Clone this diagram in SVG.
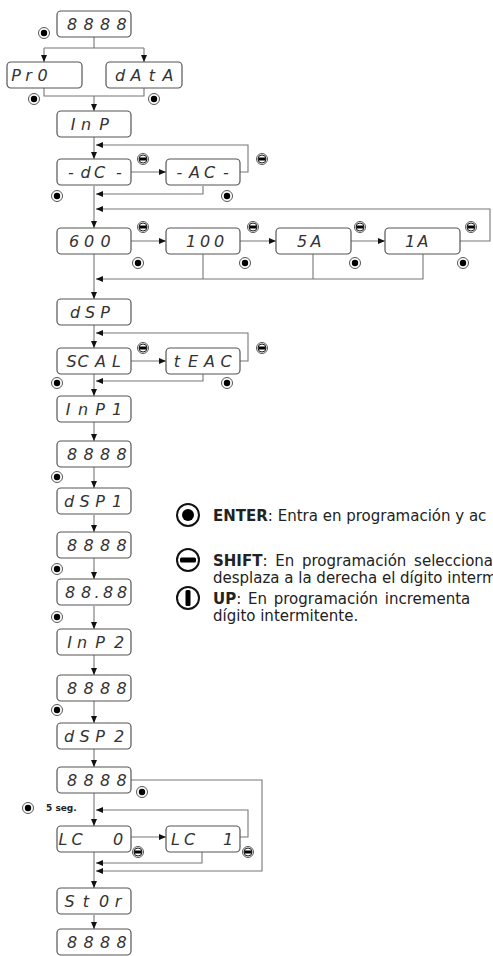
<svg xmlns="http://www.w3.org/2000/svg" xmlns:xlink="http://www.w3.org/1999/xlink" width="493" height="956" viewBox="0 0 493 956">
<defs>
<style>
.box{fill:#fff;stroke:#555;stroke-width:1.2}
.seg{font-family:"DejaVu Sans",sans-serif;font-style:italic;font-size:16px;fill:#333;text-anchor:middle}
.ln{fill:none;stroke:#777;stroke-width:1.1}
.ar{marker-end:url(#arr)}
.ring{fill:#fff;stroke:#555;stroke-width:1}
.lg{font-family:"DejaVu Sans",sans-serif;font-size:15px;fill:#222}
.b{font-weight:bold}
</style>
<marker id="arr" markerUnits="userSpaceOnUse" markerWidth="8" markerHeight="6" refX="7" refY="3" orient="auto">
<path d="M0,0 L7,3 L0,6 z" fill="#111"/>
</marker>
<g id="ent"><circle r="5.5" class="ring"/><circle r="3.2" fill="#000"/></g>
<g id="shf"><circle r="5.5" class="ring"/><circle r="4" fill="#fff" stroke="#222" stroke-width="1"/><rect x="-3.6" y="-1.5" width="7.2" height="3" fill="#000"/></g>
</defs>
<rect width="493" height="956" fill="#fff"/>

<g id="connectors">
<path class="ln" d="M94,37 V48 M44,48 H144"/>
<path class="ln ar" d="M44,48 V62"/>
<path class="ln ar" d="M144,48 V62"/>
<path class="ln" d="M44,88 V96 H144 V88"/>
<path class="ln ar" d="M94,96 V111"/>
<path class="ln ar" d="M94,137 V159"/>
<path class="ln ar" d="M131,172 H166"/>
<path class="ln ar" d="M240,172 H248 V145 H96"/>
<path class="ln ar" d="M203,186 V194 H96"/>
<path class="ln ar" d="M94,186 V228"/>
<path class="ln ar" d="M460,241 H490 V209 H96"/>
<path class="ln ar" d="M131,241 H166"/>
<path class="ln ar" d="M240,241 H276"/>
<path class="ln ar" d="M351,241 H385"/>
<path class="ln" d="M203,254 V279 M313,254 V279"/>
<path class="ln ar" d="M423,254 V279 H96"/>
<path class="ln ar" d="M94,254 V299"/>
<path class="ln ar" d="M94,325 V348"/>
<path class="ln ar" d="M131,361 H166"/>
<path class="ln ar" d="M240,361 H248 V333 H96"/>
<path class="ln ar" d="M203,374 V381 H96"/>
<path class="ln ar" d="M94,374 V396"/>
<path class="ln ar" d="M94,422 V441"/>
<path class="ln ar" d="M94,466 V488"/>
<path class="ln ar" d="M94,515 V532"/>
<path class="ln ar" d="M94,558 V579"/>
<path class="ln ar" d="M94,606 V629"/>
<path class="ln ar" d="M94,655 V675"/>
<path class="ln ar" d="M94,701 V723"/>
<path class="ln ar" d="M94,749 V767"/>
<path class="ln ar" d="M131,780 H262 V871 H96"/>
<path class="ln ar" d="M94,793 V826"/>
<path class="ln ar" d="M131,837 H166"/>
<path class="ln ar" d="M240,837 H248 V810 H96"/>
<path class="ln ar" d="M202,852 V863 H96"/>
<path class="ln ar" d="M94,852 V888"/>
<path class="ln ar" d="M94,915 V929"/>
</g>

<g id="n-8888-top"><rect class="box" x="57" y="11" width="74" height="26" rx="4"/><text class="seg" x="72 88.5 105 121.5" y="30">8888</text></g>
<g id="n-pro"><rect class="box" x="7" y="62" width="75" height="26" rx="4"/><text class="seg" x="16 28.5 42.5" y="81">Pr0</text></g>
<g id="n-data"><rect class="box" x="106" y="62" width="76" height="26" rx="4"/><text class="seg" x="120 136 152 168" y="81">dAtA</text></g>
<g id="n-inp"><rect class="box" x="57" y="111" width="74" height="26" rx="4"/><text class="seg" x="73 86 104" y="130">InP</text></g>
<g id="n-dc"><rect class="box" x="57" y="159" width="74" height="26" rx="4"/><text class="seg" x="71 85.5 99.5 119" y="178">-dC-</text></g>
<g id="n-ac"><rect class="box" x="166" y="159" width="74" height="26" rx="4"/><text class="seg" x="179.5 194.5 209.5 226" y="178">-AC-</text></g>
<g id="n-600"><rect class="box" x="57" y="228" width="74" height="26" rx="4"/><text class="seg" x="74 89 105.5" y="247">600</text></g>
<g id="n-100"><rect class="box" x="166" y="228" width="74" height="26" rx="4"/><text class="seg" x="191 205 219" y="247">100</text></g>
<g id="n-5a"><rect class="box" x="276" y="228" width="75" height="26" rx="4"/><text class="seg" x="302 316" y="247">5A</text></g>
<g id="n-1a"><rect class="box" x="385" y="228" width="75" height="26" rx="4"/><text class="seg" x="410 423" y="247">1A</text></g>
<g id="n-dsp"><rect class="box" x="57" y="299" width="74" height="26" rx="4"/><text class="seg" x="75 90 105" y="318">dSP</text></g>
<g id="n-scal"><rect class="box" x="57" y="348" width="74" height="26" rx="4"/><text class="seg" x="71.5 83 100.5 116.5" y="367">SCAL</text></g>
<g id="n-teac"><rect class="box" x="166" y="348" width="74" height="26" rx="4"/><text class="seg" x="177 193 209.5 226" y="367">tEAC</text></g>
<g id="n-inp1"><rect class="box" x="57" y="396" width="74" height="26" rx="4"/><text class="seg" x="68 83 100 117" y="415">InP1</text></g>
<g id="n-8888-2"><rect class="box" x="57" y="441" width="74" height="26" rx="4"/><text class="seg" x="72 88.5 105 121.5" y="460">8888</text></g>
<g id="n-dsp1"><rect class="box" x="57" y="488" width="74" height="26" rx="4"/><text class="seg" x="69 84.5 100 117" y="507">dSP1</text></g>
<g id="n-8888-3"><rect class="box" x="57" y="532" width="74" height="26" rx="4"/><text class="seg" x="72 88.5 105 121.5" y="551">8888</text></g>
<g id="n-8888-dec"><rect class="box" x="57" y="579" width="74" height="26" rx="4"/><text class="seg" x="70 86 97 108 122" y="598">88.88</text></g>
<g id="n-inp2"><rect class="box" x="57" y="629" width="74" height="26" rx="4"/><text class="seg" x="69.5 82 100 119" y="648">InP2</text></g>
<g id="n-8888-4"><rect class="box" x="57" y="675" width="74" height="26" rx="4"/><text class="seg" x="72 88.5 105 121.5" y="694">8888</text></g>
<g id="n-dsp2"><rect class="box" x="57" y="723" width="74" height="26" rx="4"/><text class="seg" x="69 84.5 100 119" y="742">dSP2</text></g>
<g id="n-8888-5"><rect class="box" x="57" y="767" width="74" height="26" rx="4"/><text class="seg" x="72 88.5 105 121.5" y="786">8888</text></g>
<g id="n-lc0"><rect class="box" x="57" y="826" width="74" height="26" rx="4"/><text class="seg" x="63 77 118" y="845">LC0</text></g>
<g id="n-lc1"><rect class="box" x="166" y="826" width="74" height="26" rx="4"/><text class="seg" x="175.5 189.5 228" y="845">LC1</text></g>
<g id="n-stor"><rect class="box" x="57" y="888" width="74" height="26" rx="4"/><text class="seg" x="69.5 86 104 118" y="907">St0r</text></g>
<g id="n-8888-end"><rect class="box" x="57" y="929" width="74" height="26" rx="4"/><text class="seg" x="72 88.5 105 121.5" y="948">8888</text></g>

<g id="keys">
<use xlink:href="#ent" x="44" y="33"/>
<use xlink:href="#ent" x="34" y="99"/>
<use xlink:href="#ent" x="154" y="99"/>
<use xlink:href="#ent" x="57" y="196"/>
<use xlink:href="#ent" x="227" y="196"/>
<use xlink:href="#ent" x="138" y="263"/>
<use xlink:href="#ent" x="245" y="263"/>
<use xlink:href="#ent" x="355" y="263"/>
<use xlink:href="#ent" x="463" y="263"/>
<use xlink:href="#ent" x="57" y="383"/>
<use xlink:href="#ent" x="227" y="383"/>
<use xlink:href="#ent" x="57" y="477"/>
<use xlink:href="#ent" x="57" y="569"/>
<use xlink:href="#ent" x="57" y="617"/>
<use xlink:href="#ent" x="57" y="710"/>
<use xlink:href="#ent" x="142" y="792"/>
<use xlink:href="#ent" x="28" y="808"/>
<use xlink:href="#shf" x="143" y="159"/>
<use xlink:href="#shf" x="262" y="159"/>
<use xlink:href="#shf" x="143" y="227"/>
<use xlink:href="#shf" x="253" y="227"/>
<use xlink:href="#shf" x="360" y="227"/>
<use xlink:href="#shf" x="471" y="227"/>
<use xlink:href="#shf" x="143" y="348"/>
<use xlink:href="#shf" x="262" y="348"/>
<use xlink:href="#shf" x="138" y="852"/>
<use xlink:href="#shf" x="248" y="852"/>
<text x="46" y="811" font-family="DejaVu Sans, sans-serif" font-weight="bold" font-size="9" fill="#222">5 seg.</text>
</g>

<g id="legend">
<circle cx="188" cy="515" r="11" fill="#fff" stroke="#111" stroke-width="2"/>
<circle cx="188" cy="515" r="6" fill="#000"/>
<circle cx="188" cy="560" r="11" fill="#fff" stroke="#111" stroke-width="2"/>
<rect x="180" y="557.5" width="16" height="5" rx="1.5" fill="#000"/>
<circle cx="188" cy="598" r="11" fill="#fff" stroke="#111" stroke-width="2"/>
<rect x="185.5" y="590" width="5" height="16" rx="1.5" fill="#000"/>
<text class="lg" x="213" y="521"><tspan class="b">ENTER</tspan>: Entra en programación y ac</text>
<text class="lg" x="213" y="566" word-spacing="3"><tspan class="b">SHIFT</tspan>: En programación selecciona</text>
<text class="lg" x="213" y="583">desplaza a la derecha el dígito interm</text>
<text class="lg" x="213" y="604" word-spacing="2"><tspan class="b">UP</tspan>: En programación incrementa</text>
<text class="lg" x="213" y="621">dígito intermitente.</text>
</g>
</svg>
